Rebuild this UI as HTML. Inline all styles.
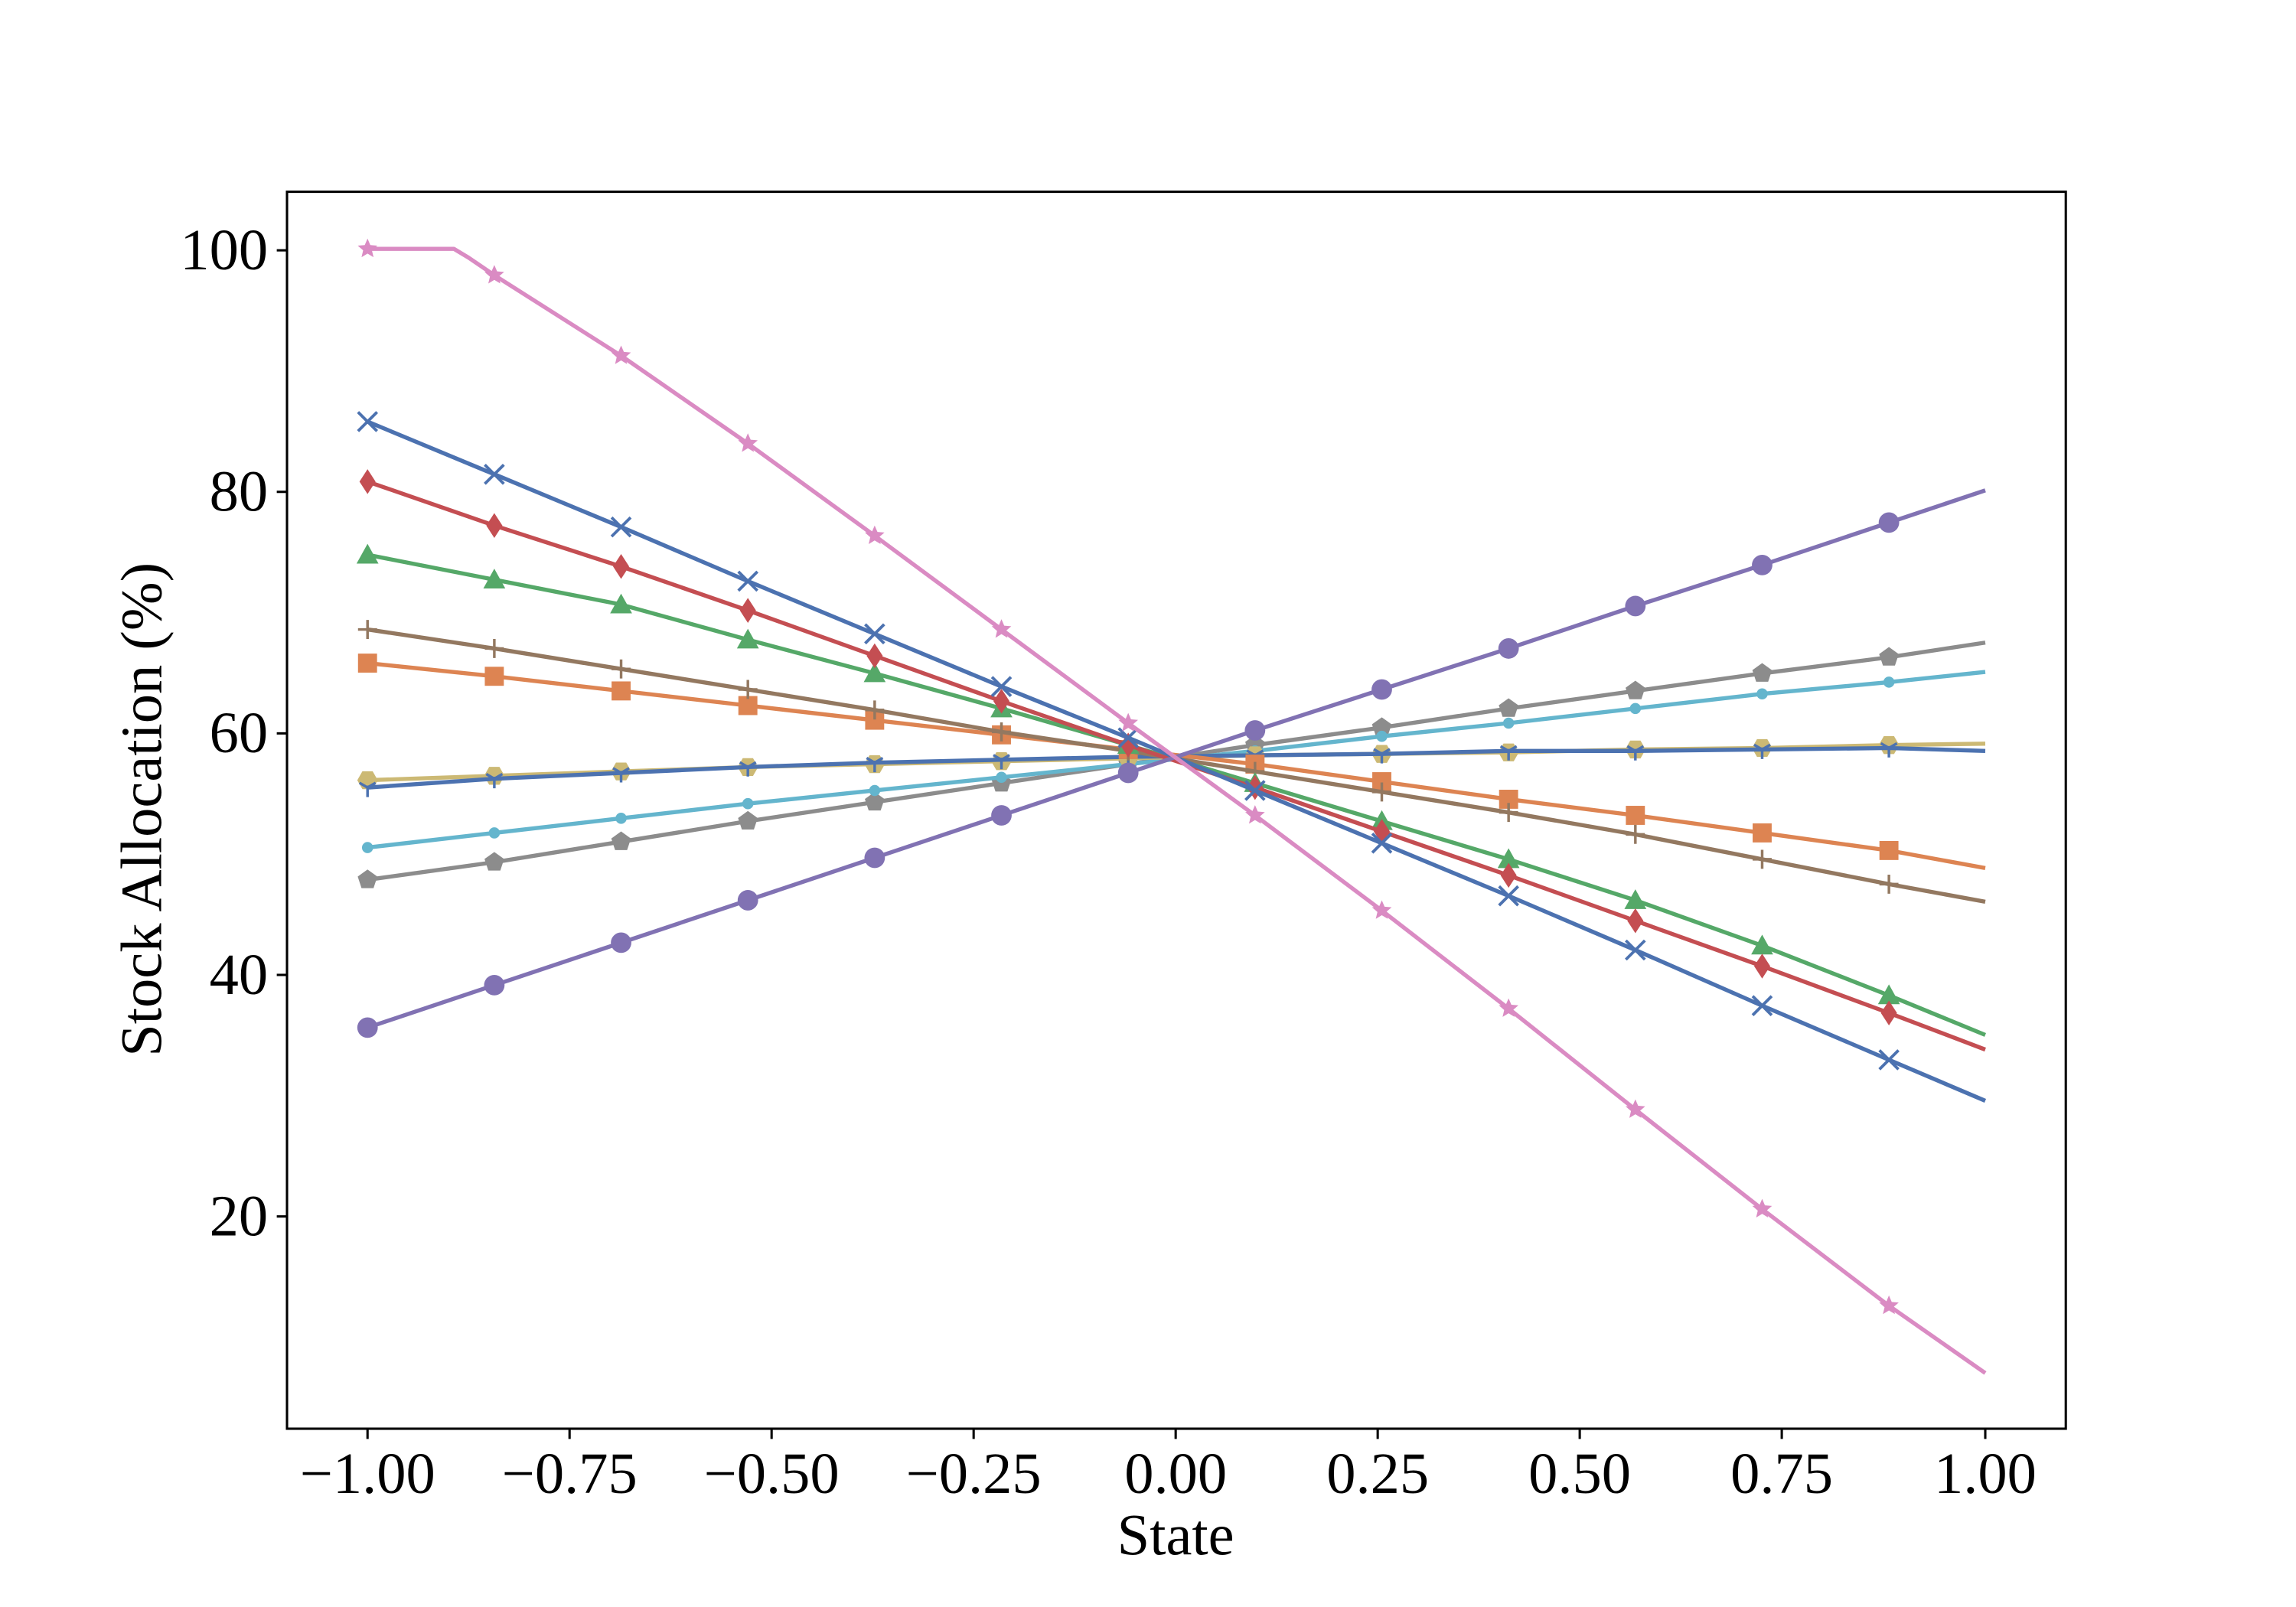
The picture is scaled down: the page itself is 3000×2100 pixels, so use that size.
<!DOCTYPE html>
<html><head><meta charset="utf-8"><style>
html,body{margin:0;padding:0;background:#fff;}
svg{display:block}
text{font-family:"Liberation Serif",serif;fill:#000}
</style></head><body>
<svg id="s" width="3000" height="2100" viewBox="0 0 1568.2 1097.8" xmlns="http://www.w3.org/2000/svg">
<rect x="0" y="0" width="1568.2" height="1097.8" fill="#fff"/>
<g id="plot"></g>
<rect x="196" y="131" width="1215" height="845" fill="none" stroke="#000" stroke-width="1.6"/>
<g stroke="#000" stroke-width="1.6" id="ticks"></g>
<g font-size="40" text-anchor="middle">
<text x="251" y="1020">−1.00</text><text x="389" y="1020">−0.75</text><text x="527" y="1020">−0.50</text><text x="665" y="1020">−0.25</text><text x="803" y="1020">0.00</text><text x="941" y="1020">0.25</text><text x="1079" y="1020">0.50</text><text x="1217" y="1020">0.75</text><text x="1356" y="1020">1.00</text>
</g>
<g font-size="40" text-anchor="end">
<text x="183" y="184">100</text><text x="183" y="349">80</text><text x="183" y="514">60</text><text x="183" y="679">40</text><text x="183" y="844">20</text>
</g>
<text x="803" y="1062" font-size="40" text-anchor="middle">State</text>
<text transform="translate(110,553) rotate(-90)" font-size="40" text-anchor="middle">Stock Allocation (%)</text>
</svg>
<script>
var NS="http://www.w3.org/2000/svg";
var t=document.getElementById('ticks');
[251,389,527,665,803,941,1079,1217,1356].forEach(function(x){var l=document.createElementNS(NS,'line');l.setAttribute('x1',x);l.setAttribute('x2',x);l.setAttribute('y1',976);l.setAttribute('y2',983);t.appendChild(l);});
[171,336,501,666,831].forEach(function(y){var l=document.createElementNS(NS,'line');l.setAttribute('x1',189);l.setAttribute('x2',196);l.setAttribute('y1',y);l.setAttribute('y2',y);t.appendChild(l);});
var X=[];for(var i=0;i<13;i++)X.push(251+i*86.6);
var S=[
["#8C8C8C","pent",[601,589,575,561,548,535,522,509,497,484,472,460,449],439],
["#64B5CD","dot",[579,569,559,549,540,531,522,513,503,494,484,474,466],459],
["#CCB974","hex",[533,530,527,524,522,520,518,516,515,514,512,511,509],508],
["#4C72B0","tri",[538,532,528,524,521,519,517,516,515,513,513,512,511],513],
["#DD8452","sq",[453,462,472,482,492,502,512,522,534,546,557,569,581],593],
["#937860","plus",[430,443,457,471,485,500,513,527,541,555,570,587,604],616],
["#55A868","triup",[379,396,413,437,460,484,509,535,561,587,615,646,680],707],
["#C44E52","dia",[329,359,387,417,448,479,509,538,568,598,629,660,692],717],
["#4C72B0","x",[288,324,360,397,433,469,504,540,576,612,649,687,724],752],
["#8172B3","circ",[702,673,644,615,586,557,528,499,471,443,414,386,357],335],
["#DA8BC3","star",[170,188,243,303,366,430,494,557,622,689,758,826,892],938]
];
var g=document.getElementById('plot');
function el(n,a){var e=document.createElementNS(NS,n);for(var k in a)e.setAttribute(k,a[k]);g.appendChild(e);return e;}
S.forEach(function(s){
 var c=s[0],ys=s[2],pts=[];
 for(var i=0;i<13;i++){pts.push(X[i]+","+ys[i]); if(i==0&&s[1]=="star"){pts.push("310,170");pts.push("320,176");}}
 pts.push("1356,"+s[3]);
 el('polyline',{points:pts.join(' '),fill:'none',stroke:c,'stroke-width':2.8,'stroke-linejoin':'round'});
 for(var i=0;i<13;i++){var x=X[i],y=ys[i];
  switch(s[1]){
  case "circ":el('circle',{cx:x,cy:y,r:7,fill:c});break;
  case "dot":el('circle',{cx:x,cy:y,r:3.8,fill:c});break;
  case "sq":el('rect',{x:x-6.5,y:y-6.5,width:13,height:13,fill:c});break;
  case "dia":el('polygon',{points:(x)+","+(y-8.5)+" "+(x+5.5)+","+y+" "+x+","+(y+8.5)+" "+(x-5.5)+","+y,fill:c});break;
  case "triup":el('polygon',{points:x+","+(y-7.5)+" "+(x+7.5)+","+(y+6)+" "+(x-7.5)+","+(y+6),fill:c});break;
  case "x":el('path',{d:"M"+(x-6.5)+" "+(y-6.5)+"L"+(x+6.5)+" "+(y+6.5)+"M"+(x-6.5)+" "+(y+6.5)+"L"+(x+6.5)+" "+(y-6.5),stroke:c,'stroke-width':2});break;
  case "plus":el('path',{d:"M"+(x-6.5)+" "+y+"L"+(x+6.5)+" "+y+"M"+x+" "+(y-6.5)+"L"+x+" "+(y+6.5),stroke:c,'stroke-width':1.8});break;
  case "tri":el('path',{d:"M"+x+" "+y+"L"+x+" "+(y+6.5)+"M"+x+" "+y+"L"+(x-5.5)+" "+(y-3.2)+"M"+x+" "+y+"L"+(x+5.5)+" "+(y-3.2),stroke:c,'stroke-width':1.8});break;
  case "pent":case "hex":case "star":
   var n=s[1]=="pent"?5:(s[1]=="hex"?6:10),r=7,p=[];
   for(var k=0;k<n;k++){var a=-Math.PI/2+k*2*Math.PI/n+(s[1]=="hex"?Math.PI/6:0);var rr=(s[1]=="star"&&k%2)?3.2:r;p.push((x+rr*Math.cos(a)).toFixed(1)+","+(y+rr*Math.sin(a)).toFixed(1));}
   el('polygon',{points:p.join(' '),fill:c});break;
  }
 }
});
</script>
</body></html>
